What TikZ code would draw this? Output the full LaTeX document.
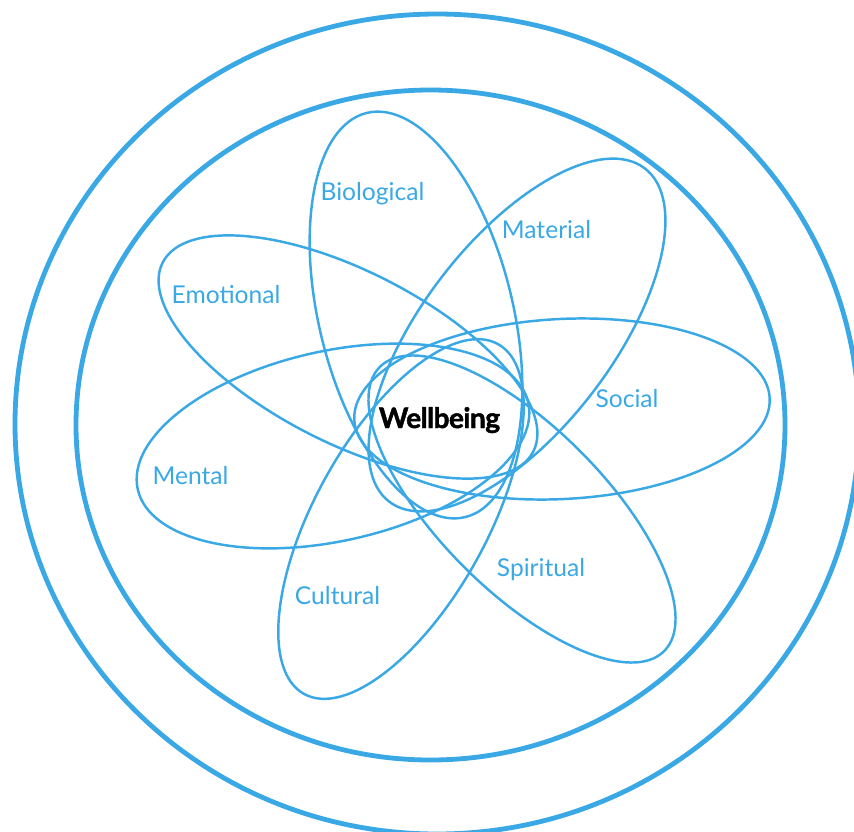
\documentclass[tikz,border=0pt]{standalone}
\usepackage{fontspec}
\setmainfont{Lato}
\newfontfamily\wbfont{Lato}[BoldFeatures={FakeBold=1.6}]
\definecolor{wbblue}{RGB}{59,168,230}
\newcommand\wbpetal[5]{\draw[petal, rotate around={#5:(#1,-#2)}] (#1,-#2) ellipse [x radius=#3, y radius=#4];}
\tikzset{
 ring/.style={draw=wbblue, line width=4.1pt},
 petal/.style={draw=wbblue, line width=2.1pt},
 lbl/.style={text=wbblue, font=\fontsize{21}{25}\selectfont, anchor=base, inner sep=0pt},
 hub/.style={text=black, font=\wbfont\fontsize{24}{28}\selectfont\bfseries\addfontfeature{LetterSpace=-2}, anchor=base, inner sep=0pt}
}
\begin{document}
\begin{tikzpicture}[x=0.03cm,y=0.03cm]
\useasboundingbox (0,0) rectangle (854,-832);
\draw[ring] (437,-424) ellipse [x radius=422, y radius=410];
\draw[ring] (430.5,-425) ellipse [x radius=354.5, y radius=335];
% Biological
\wbpetal{416}{315}{208}{97}{103.7}
% Material
\wbpetal{517}{335}{210}{95}{52.5}
% Social
\wbpetal{562}{409}{208}{90}{3}
% Spiritual
\wbpetal{522}{509}{201}{82}{-45}
% Cultural
\wbpetal{401}{519}{200}{86}{61}
% Mental
\wbpetal{333}{446}{200}{95}{12.5}
% Emotional
\wbpetal{348}{357}{208}{86}{-27}
\node[lbl] (bio) at (372.5,-200) {Biological};
\node[lbl] (mat) at (546.5,-238) {Material};
\node[lbl] (emo) at (226,-303) {Emotional};
\node[lbl] (soc) at (627,-407) {Social};
\node[lbl] (men) at (190.5,-484) {Mental};
\node[lbl] (spi) at (541,-576) {Spiritual};
\node[lbl] (cul) at (337.5,-604) {Cultural};
\node[hub] (wb) at (439.5,-428) {Wellbeing};
\end{tikzpicture}
\end{document}
